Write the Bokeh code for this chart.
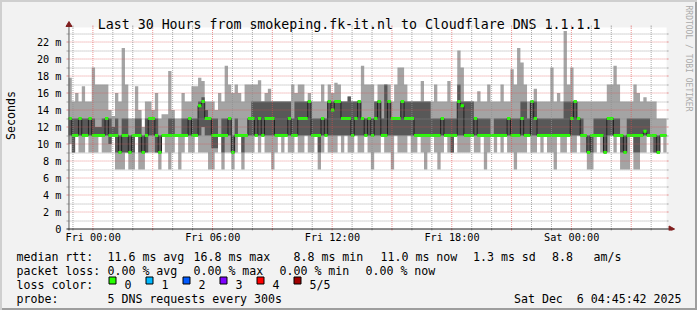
import numpy as np
from bokeh.plotting import figure
from bokeh.layouts import column
from bokeh.models import Range1d, FixedTicker, ColumnDataSource
from bokeh.core.properties import value
from bokeh.embed import file_html
from bokeh.resources import INLINE

# ---------------- data (ms), one value per 10-minute step, sorted pings ----------------
STEP_MIN = 10
T_START = -(1 + 14 / 60 + 18 / 3600)   # Thu 22:45:42, hours relative to Fri 00:00
T_END = 28 + 45 / 60 + 42 / 3600        # Sat 04:45:42

ping_min = [10, 9, 11, 9, 9, 11, 9, 9, 9, 11, 9, 9, 9, 11, 7, 7, 7, 9, 7, 7,
            11, 7, 7, 9, 9, 9, 9, 7, 11, 9, 7, 9, 11, 7, 9, 11, 9, 9, 11, 9,
            9, 9, 7, 7, 9, 11, 7, 9, 9, 7, 9, 11, 7, 9, 9, 9, 11, 9, 11, 9,
            9, 7, 9, 11, 9, 11, 9, 9, 11, 9, 9, 11, 9, 9, 11, 7, 9, 11, 9, 9,
            9, 11, 9, 11, 9, 9, 11, 9, 9, 11, 9, 7, 9, 9, 11, 9, 9, 7, 11, 9,
            9, 9, 11, 9, 9, 11, 9, 7, 9, 11, 9, 7, 9, 11, 9, 9, 11, 9, 9, 9,
            9, 11, 9, 9, 11, 7, 9, 11, 9, 11, 9, 11, 9, 9, 7, 9, 9, 9, 11, 9,
            9, 11, 9, 11, 9, 9, 7, 11, 9, 9, 11, 9, 9, 11, 9, 9, 7, 7, 9, 11,
            9, 9, 9, 11, 9, 11, 7, 7, 7, 11, 7, 7, 9, 9, 11, 9, 9, 9, 11, 9]
ping_low = [11, 9, 11, 11, 11, 11, 11, 11, 11, 11, 11, 11, 10, 11, 9, 9, 9, 9, 9, 9,
            11, 9, 9, 9, 11, 11, 9, 9, 11, 11, 11, 11, 11, 11, 11, 11, 11, 11, 11, 11,
            12, 11, 11, 9.5, 9.5, 11, 9, 11, 11, 9, 11, 11, 9, 11, 11, 11, 11, 11, 11, 11,
            11, 11, 11, 11, 11, 11, 11, 11, 11, 11, 11, 11, 11, 11, 11, 9, 11, 11, 11, 11,
            11, 11, 11, 11, 11, 11, 11, 11, 11, 11, 11, 11, 11, 11, 11, 11, 11, 11, 11, 11,
            11, 11, 11, 11, 11, 11, 11, 11, 11, 11, 11, 11, 11, 11, 11, 9, 11, 11, 11, 11,
            11, 11, 11, 11, 11, 11, 11, 11, 11, 11, 11, 11, 11, 11, 11, 11, 11, 11, 11, 11,
            11, 11, 11, 11, 11, 11, 11, 11, 11, 11, 11, 11, 11, 11, 11, 11, 9, 9, 11, 11,
            11, 9, 11, 11, 11, 11, 9, 9, 11, 11, 9, 9, 11, 11, 11, 11, 9, 9, 11, 11]
ping_median = [13, 11, 11, 13, 11, 11, 13, 11, 11, 11, 11, 13, 11, 11, 11, 9, 11, 11, 9, 11,
               11, 11, 9, 11, 13, 13, 11, 9, 11, 11, 11, 11, 11, 11, 11, 11, 13, 11, 11, 14.5,
               15, 13, 13, 11, 11, 11, 11, 11, 13, 9, 11, 11, 11, 11, 13, 13, 11, 13, 11, 13,
               13, 13, 11, 11, 11, 11, 13, 11, 11, 13, 13, 13, 15, 11, 11, 11, 13, 11, 15, 14,
               15, 15, 13, 13, 13, 11, 13, 15, 13, 11, 13, 11, 13, 15, 11, 11, 15, 13, 13, 13,
               15, 13, 13, 13, 11, 11, 11, 11, 11, 11, 11, 11, 13, 11, 11, 11, 11, 15, 14.5, 11,
               11, 11, 13, 11, 11, 11, 11, 11, 11, 11, 11, 11, 13, 11, 11, 11, 13, 11, 11, 15,
               13, 11, 11, 11, 11, 11, 11, 11, 11, 11, 11, 13, 15, 13, 11, 11, 9, 11, 11, 11,
               11, 9, 13, 13, 11, 11, 11, 9, 11, 11, 11, 11, 11, 11.5, 11, 11, 11, 9, 11, 11]
ping_high = [13, 13, 13, 13, 13, 13, 13, 13, 12, 12, 13, 13, 13, 12, 13, 11, 13, 13, 11, 11,
             13, 13, 11, 13, 13, 13, 13, 11, 11, 11, 13, 13, 11, 11, 13, 13, 13, 13, 13, 15,
             15.5, 14, 13, 13, 13, 11, 13, 13, 13, 11, 13, 11, 11, 11, 13, 15, 15, 15, 15, 15,
             15, 15, 15, 15, 15, 15, 15, 13, 15, 15, 15, 15, 15, 13, 13, 13, 13, 13, 15, 15,
             15, 15, 15, 15, 15.6, 15, 15, 15, 13, 13, 13, 13, 15, 15, 13, 17, 15, 13, 13, 13,
             15, 15, 15, 15, 15, 15, 15, 15, 15, 13, 13, 13, 13, 13, 13, 13, 13, 17, 15, 15,
             15, 15, 13, 13, 13, 13, 13, 11, 13, 13, 13, 13, 13, 13, 13, 13, 15, 15, 13, 15,
             15, 13, 13, 13, 13, 13, 13, 13, 13, 15, 15, 15, 15, 13, 13, 11, 11, 11, 13, 13,
             13, 13, 13, 13, 13, 13, 11, 11, 13, 13, 13, 13, 13, 13, 13, 11, 11, 11, 11, 11]
ping_max = [17.8, 15, 16, 15, 16.8, 15, 15, 19, 17, 17, 17, 17, 14, 13.3, 16, 15, 21.3, 17, 13, 13,
            16.8, 14, 12, 15, 15, 14, 16, 13, 13.5, 13.5, 18.6, 14, 13, 13, 16, 15, 15, 16.8, 16.8, 17.8,
            17.4, 15, 15, 15, 14, 16, 15, 19.2, 17, 16, 17, 16, 15, 17, 17, 17, 17, 17.5, 15, 16,
            16.5, 15, 15, 15, 15, 15, 15, 17, 16, 17, 17, 15, 16, 15, 15, 15, 17, 15, 17, 16,
            17.2, 17, 15, 15, 15.6, 15, 15, 15, 19.2, 17, 17, 17, 15, 17, 17, 17, 17, 15, 17, 19,
            19, 17, 15, 15, 15, 15, 17.4, 15, 15, 15, 17, 15, 15, 15, 17.4, 15, 15, 21, 19, 15,
            15, 15, 15, 16.2, 15, 15, 17, 15, 15, 15, 17, 15, 15, 18.8, 17, 21.3, 19.6, 17, 15, 15,
            16.5, 15, 15, 15, 15, 19, 15, 16, 15, 23.3, 17, 19, 15, 15, 15, 15, 15, 15, 15, 15,
            15, 15, 17, 17, 19.2, 17, 15, 15, 15, 15, 17, 16, 15, 15.5, 15, 15, 15, 13, 13, 13]

y_ticks = [0, 2, 4, 6, 8, 10, 12, 14, 16, 18, 20, 22]
y_tick_labels = ["0", "2 m", "4 m", "6 m", "8 m", "10 m", "12 m", "14 m", "16 m", "18 m", "20 m", "22 m"]
x_ticks = [0, 6, 12, 18, 24]
x_tick_labels = ["Fri 00:00", "Fri 06:00", "Fri 12:00", "Fri 18:00", "Sat 00:00"]

title_text = "Last 30 Hours from smokeping.fk-it.nl to Cloudflare DNS 1.1.1.1"
y_label = "Seconds"
watermark = "RRDTOOL / TOBI OETIKER"
rtt_head = "median rtt:"
rtt_items = ["11.6 ms avg", "16.8 ms max", "8.8 ms min", "11.0 ms now", "1.3 ms sd", "8.8", "am/s"]
loss_head = "packet loss:"
loss_items = ["0.00 % avg", "0.00 % max", "0.00 % min", "0.00 % now"]
color_head = "loss color:"
loss_labels = ["0", "1", "2", "3", "4", "5/5"]
loss_colors = ["#26ff00", "#00b8ff", "#0059ff", "#7e00ff", "#ff0000", "#a10000"]
probe_head = "probe:"
probe_text = "5 DNS requests every 300s"
date_text = "Sat Dec \u00a06 04:45:42 2025"

# ---------------- geometry (pixels) ----------------
PPM = 8.5      # px per ms
PPH = 20.0     # px per hour
X0 = 66.0      # canvas px of T_START
Y0 = 228.5     # canvas px of 0 ms
Y_TOP = (Y0 - 27.0) / PPM
MONO = "DejaVu Sans Mono"
LEG = "11.6px"
H_MAIN = 246


def hx(px):          # canvas px -> hours
    return T_START + (px - X0) / PPH


def my(py):          # canvas px -> ms
    return (Y0 - py) / PPM


def snap_h(h):       # put a 1px vertical line on a pixel centre
    px = X0 + (h - T_START) * PPH
    return hx(np.floor(px) + 0.5)


def snap_ms(m):
    py = Y0 - m * PPM
    return my(np.floor(py) + 0.5)


p = figure(width=697, height=H_MAIN, output_backend="svg", toolbar_location=None,
           x_range=Range1d(hx(60), hx(697)), y_range=Range1d(my(230), my(0)),
           min_border_left=60, min_border_right=0, min_border_top=0, min_border_bottom=H_MAIN - 230,
           background_fill_alpha=0, border_fill_alpha=0)
p.frame_align = False
p.outline_line_color = None
p.xgrid.visible = False
p.ygrid.visible = False

# white canvas
p.quad(left=[T_START], right=[T_END], bottom=[0], top=[Y_TOP], fill_color="white", line_color=None)

n = len(ping_median)
x_edges = T_START + np.arange(n + 1) * STEP_MIN / 60.0
ext = lambda a: list(a) + [a[-1]]
SW = 0.17
src = ColumnDataSource(dict(x=x_edges, pmin=ext(ping_min), plow=ext(ping_low),
                            med=ext(ping_median), phigh=ext(ping_high), pmax=ext(ping_max),
                            mlo=ext([m - SW for m in ping_median]), mhi=ext([m + SW for m in ping_median])))
p.varea_step(x="x", y1="pmin", y2="pmax", step_mode="after", fill_color="#a4a4a4", source=src)
p.varea_step(x="x", y1="plow", y2="phigh", step_mode="after", fill_color="#585858", source=src)
p.step(x="x", y="med", mode="after", line_color="#202020", line_width=1, source=src)
p.varea_step(x="x", y1="mlo", y2="mhi", step_mode="after", fill_color="#26ff00", source=src)

# grid (on top, like rrdtool), rrdtool default colours
minor_h = [snap_h(h) for h in range(-1, 29) if h % 3 != 0]
major_h = [snap_h(h) for h in range(0, 29, 3)]
minor_y = [snap_ms(m) for m in range(1, 24, 2)]
major_y = [snap_ms(m) for m in range(2, 23, 2)]
GRID_MINOR, A_MINOR = "#8f8f8f", 0.75
GRID_MAJOR, A_MAJOR = "#de4f4f", 0.6
TX, TY = 2 / PPH, 2 / PPM
for levels, col, al in ((minor_y, GRID_MINOR, A_MINOR), (major_y, GRID_MAJOR, A_MAJOR)):
    k = len(levels)
    p.segment(x0=[T_START] * k, x1=[T_END] * k, y0=levels, y1=levels,
              line_color=col, line_dash="1 1", line_width=1, line_alpha=al)
    p.segment(x0=[T_START - TX] * k, x1=[T_START] * k, y0=levels, y1=levels,
              line_color=col, line_width=1, line_alpha=al)
    p.segment(x0=[T_END] * k, x1=[T_END + TX] * k, y0=levels, y1=levels,
              line_color=col, line_width=1, line_alpha=al)
for hours, col, al in ((minor_h, GRID_MINOR, A_MINOR), (major_h, GRID_MAJOR, A_MAJOR)):
    k = len(hours)
    p.segment(x0=hours, x1=hours, y0=[0] * k, y1=[Y_TOP] * k,
              line_color=col, line_dash="1 1", line_width=1, line_alpha=al)
    p.segment(x0=hours, x1=hours, y0=[-TY] * k, y1=[0] * k, line_color=col, line_width=1, line_alpha=al)
    p.segment(x0=hours, x1=hours, y0=[Y_TOP] * k, y1=[Y_TOP + TY] * k,
              line_color=col, line_width=1, line_alpha=al)

# axis lines + arrows
ARROW = "#801f1f"
xa = hx(66.5)
p.segment(x0=[xa], x1=[xa], y0=[my(231)], y1=[my(24)], line_color="#5a5a5a", line_width=1)
p.segment(x0=[hx(64)], x1=[hx(670)], y0=[0], y1=[0], line_color="#1f1f1f", line_width=1)
p.patch(x=[hx(63.5), hx(69.5), xa], y=[my(26), my(26), my(21)], fill_color=ARROW, line_color=ARROW)
p.patch(x=[hx(668.5), hx(668.5), hx(674)], y=[my(225.5), my(231.5), my(228.5)],
        fill_color=ARROW, line_color=ARROW)

# title and watermark
p.text(x=[hx(347.5)], y=[my(24)], text=[title_text], text_font=value(MONO),
       text_font_size=value("13.25px"), text_align="center", text_baseline="alphabetic", text_color="#000000")
p.text(x=[hx(687.5)], y=[my(5)], text=[watermark], text_font=value(MONO), angle=-np.pi / 2,
       text_font_size=value("8px"), text_align="left", text_baseline="middle", text_color="#aaaaaa")

# tick labels through Bokeh axes
p.yaxis.ticker = FixedTicker(ticks=y_ticks, minor_ticks=[])
p.yaxis.major_label_overrides = {t: s for t, s in zip(y_ticks, y_tick_labels)}
p.xaxis.ticker = FixedTicker(ticks=x_ticks, minor_ticks=[])
p.xaxis.major_label_overrides = {t: s for t, s in zip(x_ticks, x_tick_labels)}
for ax in (p.xaxis, p.yaxis):
    ax.axis_line_color = None
    ax.major_tick_line_color = None
    ax.minor_tick_line_color = None
    ax.major_tick_out = 0
    ax.major_tick_in = 0
    ax.major_label_text_font = MONO
    ax.major_label_text_font_size = "10.2px"
    ax.major_label_text_color = "#000000"
p.yaxis.major_label_standoff = 1
p.xaxis.major_label_standoff = 1
p.yaxis.axis_label = y_label
p.yaxis.axis_label_text_font = MONO
p.yaxis.axis_label_text_font_size = LEG
p.yaxis.axis_label_text_font_style = "normal"
p.yaxis.axis_label_text_color = "#000000"
p.yaxis.axis_label_standoff = 16

# ---------------- legend block (figure in canvas pixel units) ----------------
q = figure(width=697, height=310 - H_MAIN, output_backend="svg", toolbar_location=None,
           x_range=Range1d(0, 697), y_range=Range1d(310, H_MAIN),
           min_border=0, background_fill_alpha=0, border_fill_alpha=0)
q.frame_align = False
q.outline_line_color = None
q.axis.visible = False
q.grid.visible = False

row_y = [256, 270, 284, 298]
tx, ty, tt = [], [], []


def put(txt, X, Y):
    tx.append(X)
    ty.append(Y)
    tt.append(txt)


put(rtt_head, 16, row_y[0])
for txt, X in zip(rtt_items, [107, 193, 293, 380, 472.5, 551.5, 593]):
    put(txt, X, row_y[0])
put(loss_head, 16, row_y[1])
for txt, X in zip(loss_items, [107, 193, 279, 365]):
    put(txt, X, row_y[1])
put(color_head, 16, row_y[2])
box_x = [108 + 37 * k for k in range(len(loss_labels))]
for txt, bx in zip(loss_labels, box_x):
    put(txt, bx + 16, row_y[2])
put(probe_head, 16, row_y[3])
put(probe_text, 107, row_y[3])
q.text(x=tx, y=ty, text=tt, text_font=value(MONO), text_font_size=value(LEG),
       text_align="left", text_baseline="alphabetic", text_color="#000000")
q.text(x=[681], y=[row_y[3]], text=[date_text], text_font=value(MONO), text_font_size=value(LEG),
       text_align="right", text_baseline="alphabetic", text_color="#000000")
box_top = row_y[2] - 7.5
q.quad(left=[b + 0.5 for b in box_x], right=[b + 7.5 for b in box_x],
       top=[box_top] * len(box_x), bottom=[box_top + 7] * len(box_x),
       fill_color=loss_colors, line_color="#000000", line_width=1)

layout = column(p, q, spacing=0,
                styles={"background-color": "#f2f2f2",
                        "box-shadow": "inset 2px 2px 0 #cfcfcf, inset -2px -2px 0 #9e9e9e"})

open("out.html", "w").write(file_html(layout, INLINE))
